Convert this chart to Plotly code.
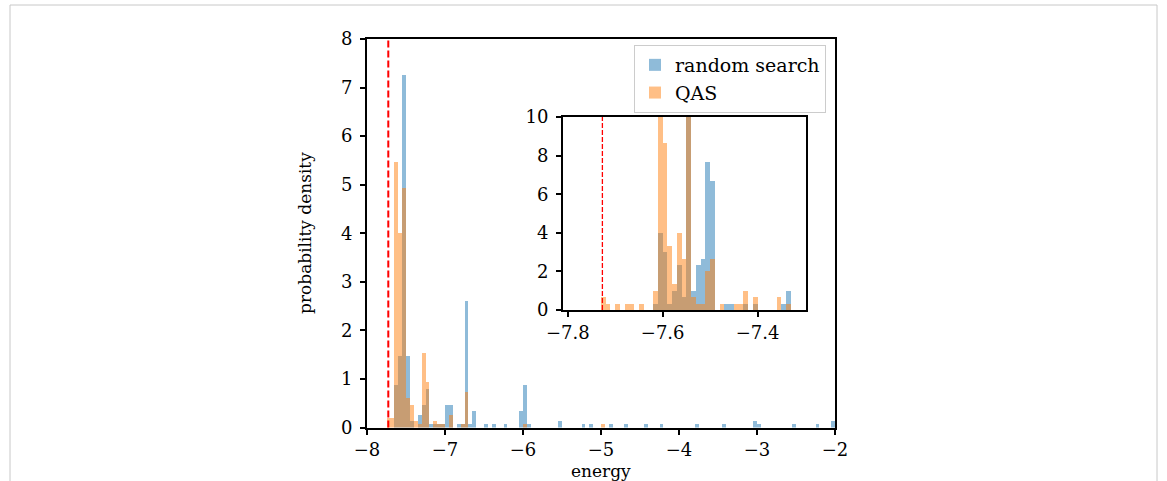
import plotly.graph_objects as go

# ---------------- data ----------------
ground_energy = -7.727

# main histogram: bin width 0.05, listed by bin left edge
main_bin_width = 0.05
blue_main_left = [-7.65, -7.60, -7.55, -7.50, -7.45, -7.35, -7.30, -7.25, -7.20, -7.15,
                  -7.10, -7.05, -7.00, -6.95, -6.85, -6.80, -6.75, -6.70, -6.65, -6.50,
                  -6.40, -6.25, -6.05, -6.00, -5.95, -5.55, -5.25, -5.15, -4.90, -4.70,
                  -4.45, -4.25, -3.80, -3.45, -3.05, -3.00, -2.55, -2.25, -2.05]
blue_main_density = [0.867, 1.467, 7.267, 1.467, 0.133, 0.267, 0.467, 0.80, 0.067, 0.067,
                     0.067, 0.067, 0.467, 0.467, 0.067, 0.067, 2.60, 0.067, 0.333, 0.067,
                     0.067, 0.067, 0.333, 0.867, 0.067, 0.133, 0.067, 0.067, 0.067, 0.067,
                     0.067, 0.067, 0.067, 0.067, 0.133, 0.067, 0.067, 0.067, 0.133]

orange_main_left = [-7.75, -7.70, -7.65, -7.60, -7.55, -7.50, -7.45, -7.40, -7.35, -7.30,
                    -7.25, -7.15, -7.10, -7.05, -6.95, -6.80, -6.75, -6.00, -5.00]
orange_main_density = [0.20, 0.20, 5.467, 4.00, 4.933, 0.60, 0.467, 0.133, 0.067, 1.533,
                       0.933, 0.133, 0.067, 0.067, 0.267, 0.067, 0.733, 0.067, 0.067]

# inset histogram: bin width 0.01, listed by bin left edge
inset_bin_width = 0.01
blue_inset_left = [-7.62, -7.61, -7.60, -7.59, -7.58, -7.57, -7.56, -7.55, -7.54, -7.53,
                   -7.52, -7.51, -7.50, -7.47, -7.46, -7.43, -7.41, -7.35, -7.34]
blue_inset_density = [0.333, 4.0, 3.0, 0.333, 1.0, 2.333, 0.667, 22.7, 1.0, 2.333,
                      2.667, 7.667, 6.667, 0.333, 0.333, 0.333, 0.333, 0.333, 1.0]

orange_inset_left = [-7.73, -7.72, -7.70, -7.68, -7.67, -7.65, -7.62, -7.61, -7.60, -7.59,
                     -7.58, -7.57, -7.56, -7.55, -7.54, -7.53, -7.52, -7.51, -7.50, -7.48,
                     -7.45, -7.44, -7.43, -7.41, -7.36, -7.34]
orange_inset_density = [0.667, 0.333, 0.333, 0.333, 0.333, 0.333, 1.0, 26.0, 8.667, 3.333,
                        1.333, 4.0, 2.667, 21.3, 0.667, 0.333, 0.333, 2.0, 2.667, 0.333,
                        0.333, 0.333, 1.0, 0.667, 0.667, 0.333]

main_xticks = [-8, -7, -6, -5, -4, -3, -2]
main_yticks = [0, 1, 2, 3, 4, 5, 6, 7, 8]
inset_xticks = [-7.8, -7.6, -7.4]
inset_yticks = [0, 2, 4, 6, 8, 10]

series_names = ["random search", "QAS"]
BLUE = "rgba(31,119,180,0.5)"
ORANGE = "rgba(255,127,14,0.5)"

# ---------------- figure ----------------
W, H = 1167, 481
FONT = "DejaVu Serif"
TICK_FS = 18
LEG_FS = 19
LAB_FS = 17


def centers(lefts, w):
    return [l + w / 2 for l in lefts]


fig = go.Figure()
fig.add_trace(go.Bar(x=centers(blue_main_left, main_bin_width), y=blue_main_density,
                     width=main_bin_width, marker=dict(color=BLUE, line=dict(width=0)),
                     name=series_names[0], xaxis="x", yaxis="y"))
fig.add_trace(go.Bar(x=centers(orange_main_left, main_bin_width), y=orange_main_density,
                     width=main_bin_width, marker=dict(color=ORANGE, line=dict(width=0)),
                     name=series_names[1], xaxis="x", yaxis="y"))
fig.add_trace(go.Bar(x=centers(blue_inset_left, inset_bin_width), y=blue_inset_density,
                     width=inset_bin_width, marker=dict(color=BLUE, line=dict(width=0)),
                     showlegend=False, xaxis="x2", yaxis="y2"))
fig.add_trace(go.Bar(x=centers(orange_inset_left, inset_bin_width), y=orange_inset_density,
                     width=inset_bin_width, marker=dict(color=ORANGE, line=dict(width=0)),
                     showlegend=False, xaxis="x2", yaxis="y2"))

px = lambda v: v / W
py = lambda v: 1 - v / H

axis_common = dict(showgrid=False, zeroline=False, showline=True, linecolor="black",
                   linewidth=2, mirror=True, ticks="outside", ticklen=5, tickwidth=2,
                   tickcolor="black", automargin=False,
                   tickfont=dict(family=FONT, size=TICK_FS, color="black"))

fig.update_layout(
    width=W, height=H, margin=dict(l=0, r=0, t=0, b=0, pad=0),
    paper_bgcolor="white", plot_bgcolor="white", barmode="overlay", bargap=0,
    font=dict(family=FONT, size=LAB_FS, color="black"),
    xaxis=dict(domain=[px(367), px(835)], range=[-8, -2], tickvals=main_xticks,
               anchor="y", ticklabelstandoff=0, **axis_common),
    yaxis=dict(domain=[py(427.5), py(39)], range=[0, 8], tickvals=main_yticks,
               anchor="x", ticklabelstandoff=4, **axis_common),
    xaxis2=dict(domain=[px(563), px(806)], range=[-7.81, -7.298], tickvals=inset_xticks,
                ticktext=["\u22127.8", "\u22127.6", "\u22127.4"], anchor="y2",
                ticklabelstandoff=0, **axis_common),
    yaxis2=dict(domain=[py(310), py(117)], range=[0, 10], tickvals=inset_yticks,
                anchor="x2", ticklabelstandoff=4, **axis_common),
    legend=dict(x=px(826), xanchor="right", y=py(45), yanchor="top",
                bgcolor="rgba(255,255,255,0.8)", bordercolor="#cccccc", borderwidth=1,
                font=dict(family=FONT, size=LEG_FS, color="black")),
    showlegend=True,
)

# reference (ground-state) energy lines
fig.add_shape(type="line", xref="x", yref="y domain", x0=ground_energy, x1=ground_energy,
              y0=0, y1=1, line=dict(color="red", width=2, dash="7px,3px"))
fig.add_shape(type="line", xref="x2", yref="y2 domain", x0=ground_energy, x1=ground_energy,
              y0=0, y1=1, line=dict(color="red", width=1.3, dash="5px,2px"))

# page frame
frame = "#c8c8c8"
fig.add_shape(type="line", xref="paper", yref="paper", x0=px(10), x1=px(1157), y0=py(5), y1=py(5),
              line=dict(color=frame, width=1))
fig.add_shape(type="line", xref="paper", yref="paper", x0=px(10), x1=px(10), y0=py(5), y1=0,
              line=dict(color=frame, width=1))
fig.add_shape(type="line", xref="paper", yref="paper", x0=px(1157), x1=px(1157), y0=py(5), y1=0,
              line=dict(color=frame, width=1))

# axis labels
fig.add_annotation(text="energy", xref="paper", yref="paper", x=px(601), y=py(471),
                   showarrow=False, xanchor="center", yanchor="middle",
                   font=dict(family=FONT, size=LAB_FS, color="black"))
fig.add_annotation(text="probability density", xref="paper", yref="paper", x=px(305), y=py(233),
                   showarrow=False, xanchor="center", yanchor="middle", textangle=-90,
                   font=dict(family=FONT, size=LAB_FS, color="black"))

# remove the default page margin so the figure sits at the window's top-left corner
fig.write_html("out.html", config={"displayModeBar": False},
               post_script="document.body.style.margin='0';")
